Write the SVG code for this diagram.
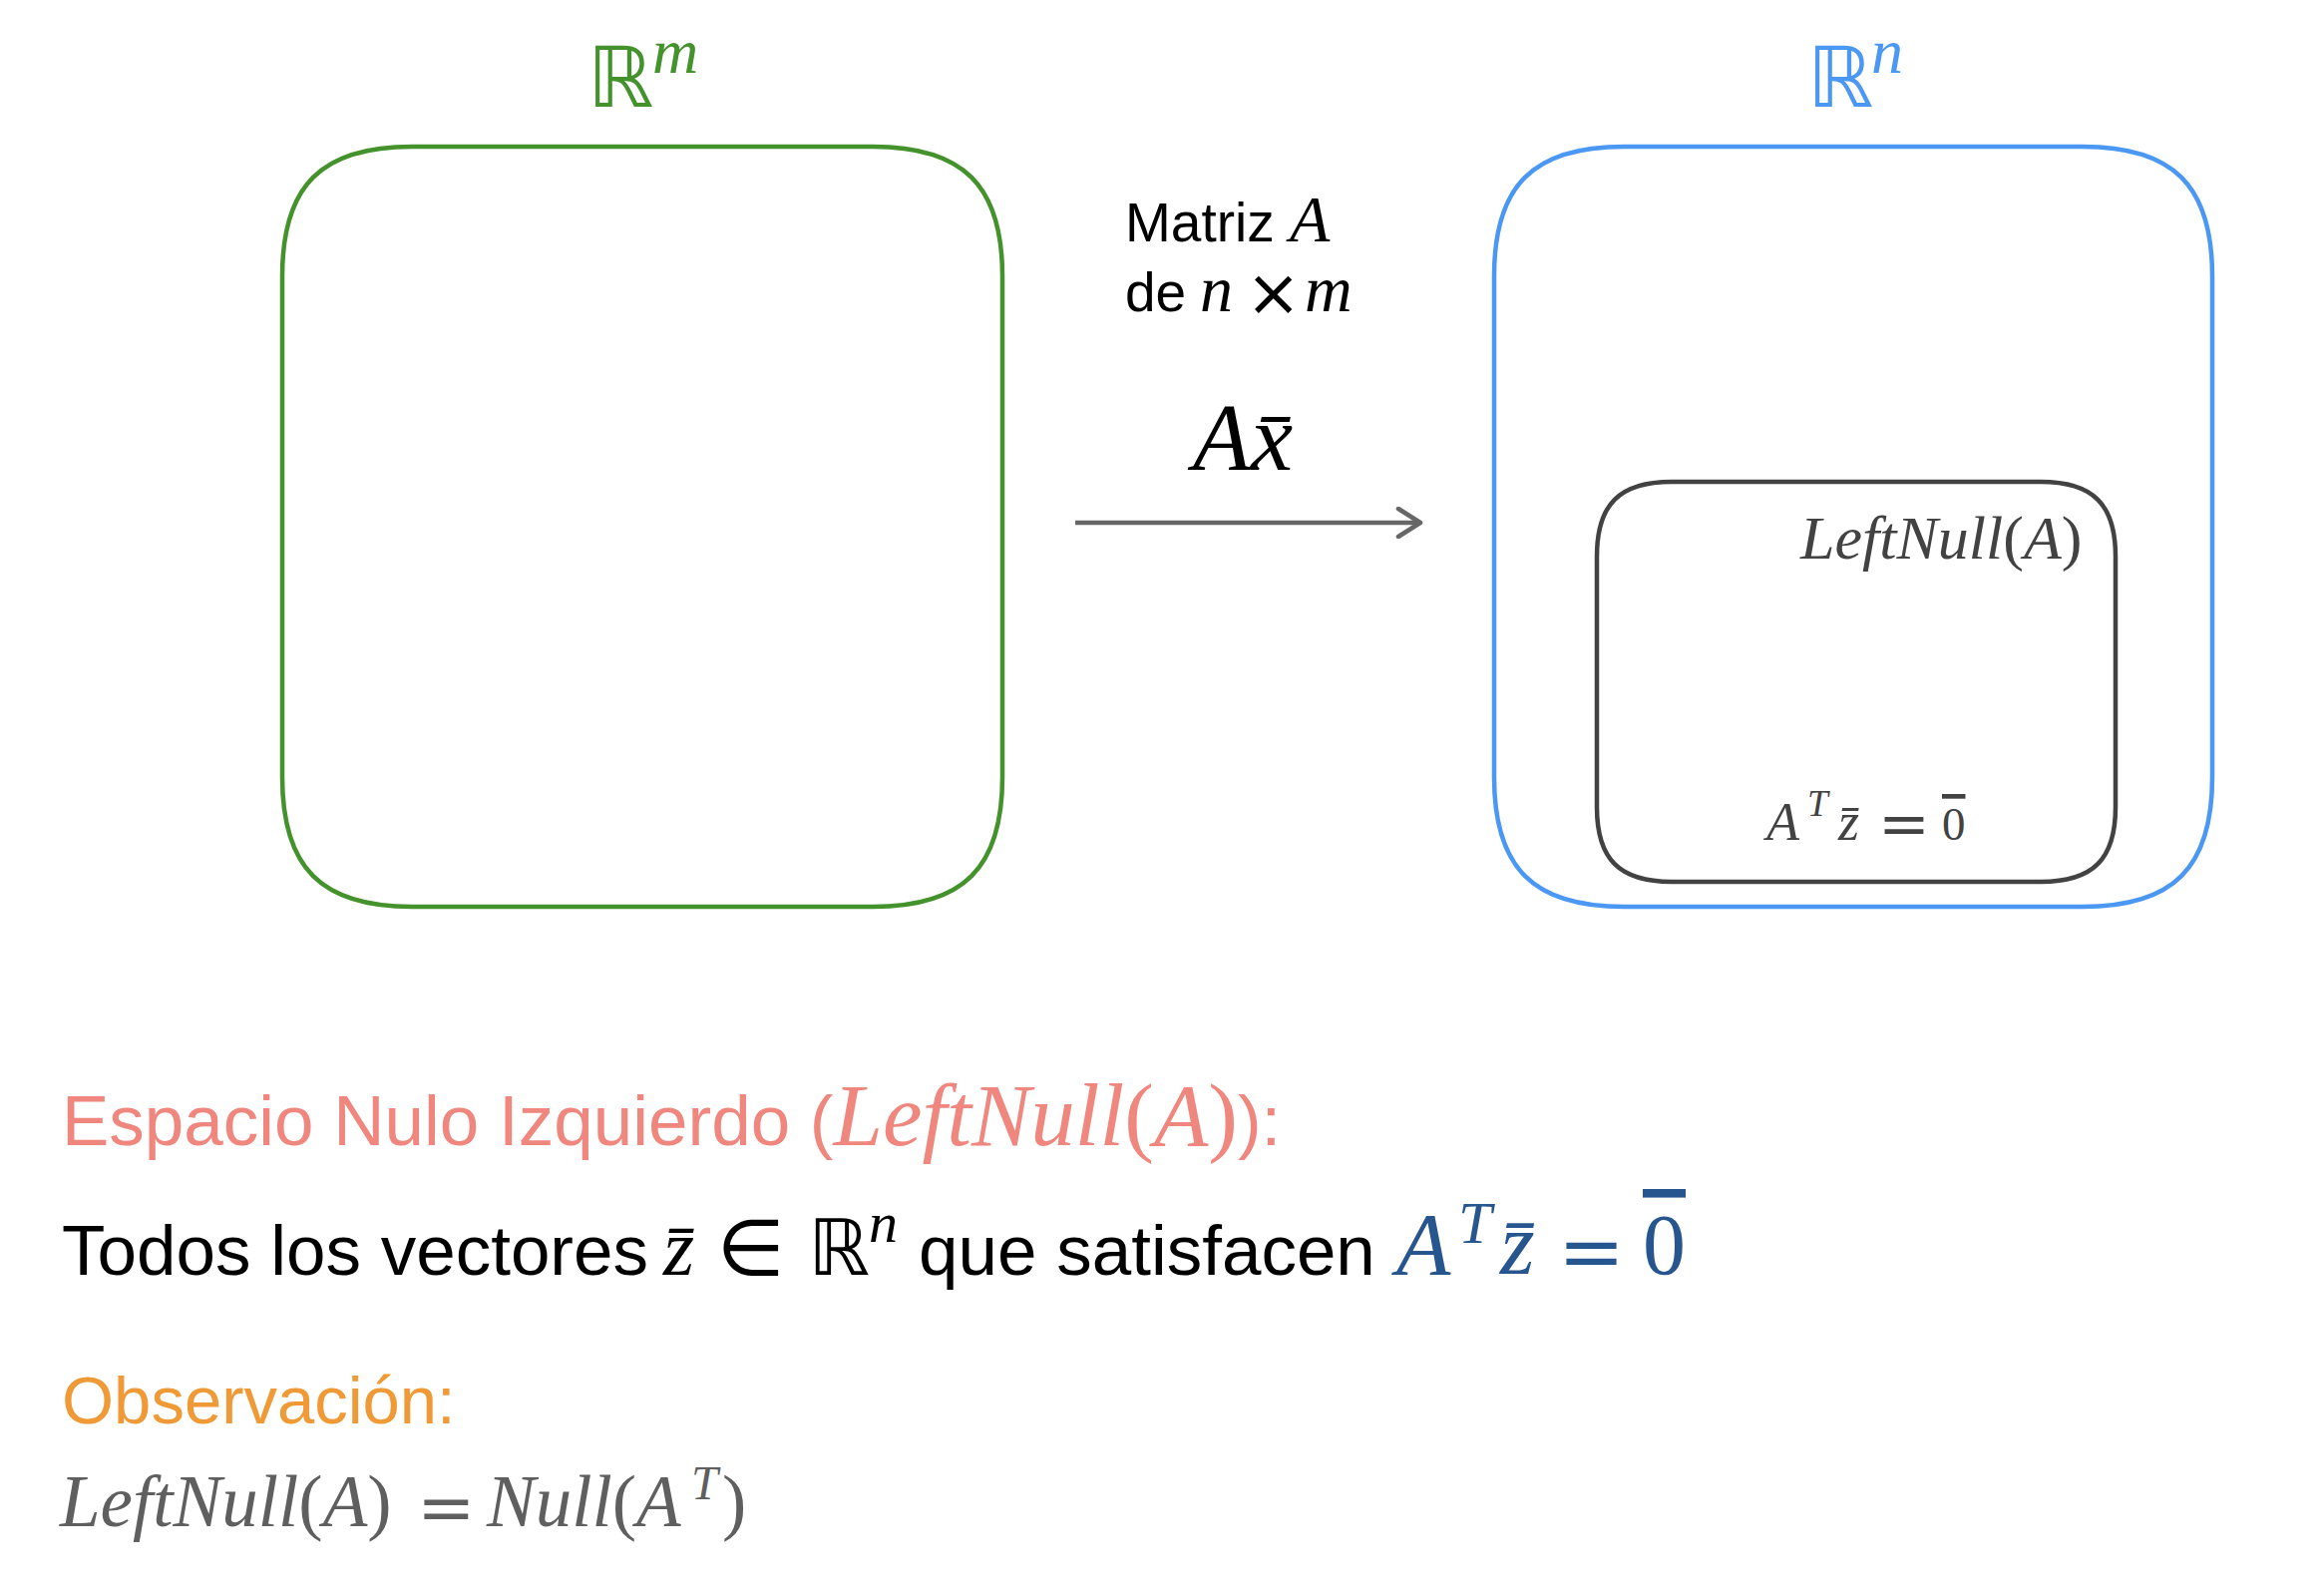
<svg xmlns="http://www.w3.org/2000/svg" width="2330" height="1596" viewBox="0 0 2330 1596">
<style>
.sans{font-family:"Liberation Sans",Arial,sans-serif;}
.mi{font-family:"Liberation Serif","Times New Roman",serif;font-style:italic;}
.mu{font-family:"Liberation Serif","Times New Roman",serif;font-style:normal;}
.dsr{font-family:"DejaVu Serif",serif;font-style:normal;}
.ds{font-family:"DejaVu Sans",sans-serif;}
.ov{text-decoration:overline;text-decoration-thickness:0.05em;}
.box{fill:none;stroke-width:4.5;}
</style>
<defs>
<marker id="chev" viewBox="0 0 28 32" refX="25" refY="16" markerWidth="28" markerHeight="32" markerUnits="userSpaceOnUse" orient="auto">
<path d="M3,2 L25,16 L3,30" fill="none" stroke="#666666" stroke-width="4.5" stroke-linecap="round" stroke-linejoin="round"/>
</marker>
</defs>
<rect width="2330" height="1596" fill="#ffffff"/>

<g id="space-rm">
<path class="box" stroke="#44922c" d="M413,147 H875 C966,147 1005,186 1005,277 V779 C1005,870 966,909 875,909 H413 C322,909 283,870 283,779 V277 C283,186 322,147 413,147 Z"/>
<text x="589" y="107" class="ds" font-size="84" fill="#44922c">ℝ</text>
<text x="654" y="73" class="mi" font-size="64" fill="#44922c">m</text>
</g>

<g id="space-rn">
<path class="box" stroke="#4b97f4" d="M1628,147 H2088 C2179,147 2218,186 2218,277 V779 C2218,870 2179,909 2088,909 H1628 C1537,909 1498,870 1498,779 V277 C1498,186 1537,147 1628,147 Z"/>
<text x="1812" y="107" class="ds" font-size="84" fill="#4b97f4">ℝ</text>
<text x="1876" y="73" class="mi" font-size="64" fill="#4b97f4">n</text>
</g>

<g id="leftnull">
<path class="box" stroke="#424242" d="M1676,483 H2046 C2098.5,483 2121,505.5 2121,558 V809 C2121,861.5 2098.5,884 2046,884 H1676 C1623.5,884 1601,861.5 1601,809 V558 C1601,505.5 1623.5,483 1676,483 Z"/>
<text x="1805" y="560" class="mi" font-size="62" fill="#424242">LeftNull<tspan class="mu">(</tspan>A<tspan class="mu">)</tspan></text>
<text x="1771" y="842" class="mi" font-size="54" fill="#424242">A</text>
<text x="1812" y="818" class="mi" font-size="37" fill="#424242">T</text>
<text x="1843" y="842" class="mi" font-size="54" fill="#424242">z̄</text>
<text x="1883" y="847" class="dsr" font-size="62" fill="#424242">=</text>
<text x="1947" y="842" class="mu ov" font-size="47" fill="#424242">0</text>
</g>

<g id="matrix-label">
<text x="1128" y="242" class="sans" font-size="55" fill="#000000">Matriz <tspan class="mi" font-size="66">A</tspan></text>
<text x="1128" y="312" class="sans" font-size="55" fill="#000000">de</text>
<text x="1203" y="312" class="mi" font-size="66" fill="#000000">n</text>
<text x="1249" y="316" class="ds" font-size="66" fill="#000000">×</text>
<text x="1308" y="312" class="mi" font-size="66" fill="#000000">m</text>
<text x="1196" y="471" class="mi" font-size="95" fill="#000000">Ax̄</text>
</g>

<g id="connectors">
<line x1="1078" y1="524" x2="1424" y2="524" stroke="#666666" stroke-width="4.5" marker-end="url(#chev)"/>
</g>

<g id="notes">
<text x="62" y="1148" class="sans" font-size="71" fill="#f0877f">Espacio Nulo Izquierdo (<tspan class="mi" font-size="89">LeftNull</tspan><tspan class="mu" font-size="89">(</tspan><tspan class="mi" font-size="89">A</tspan><tspan class="mu" font-size="89">)</tspan>):</text>

<text x="62" y="1278" class="sans" font-size="71" fill="#000000">Todos los vectores</text>
<text x="665" y="1278" class="mi" font-size="80" fill="#000000">z̄</text>
<text x="719" y="1278" class="ds" font-size="78" fill="#000000">∈</text>
<text x="810" y="1278" class="ds" font-size="78" fill="#000000">ℝ</text>
<text x="871" y="1245" class="mi" font-size="58" fill="#000000">n</text>
<text x="921" y="1278" class="sans" font-size="71" fill="#000000">que satisfacen</text>
<text x="1400" y="1277" class="mi" font-size="89" fill="#27568f">A</text>
<text x="1462" y="1246" class="mi" font-size="60" fill="#27568f">T</text>
<text x="1504" y="1277" class="mi" font-size="89" fill="#27568f">z̄</text>
<text x="1562" y="1282" class="dsr" font-size="80" fill="#27568f">=</text>
<text x="1647" y="1277" class="mu ov" font-size="86" fill="#27568f">0</text>

<text x="62" y="1427" class="sans" font-size="67" fill="#f09a37">Observación:</text>

<text x="60" y="1530" class="mi" font-size="73" fill="#5f5f5f">LeftNull<tspan class="mu">(</tspan>A<tspan class="mu">)</tspan></text>
<text x="418" y="1535" class="dsr" font-size="70" fill="#5f5f5f">=</text>
<text x="488" y="1530" class="mi" font-size="73" fill="#5f5f5f">Null<tspan class="mu">(</tspan>A</text>
<text x="693" y="1503" class="mi" font-size="48" fill="#5f5f5f">T</text>
<text x="724" y="1530" class="mu" font-size="73" fill="#5f5f5f">)</text>
</g>
</svg>
